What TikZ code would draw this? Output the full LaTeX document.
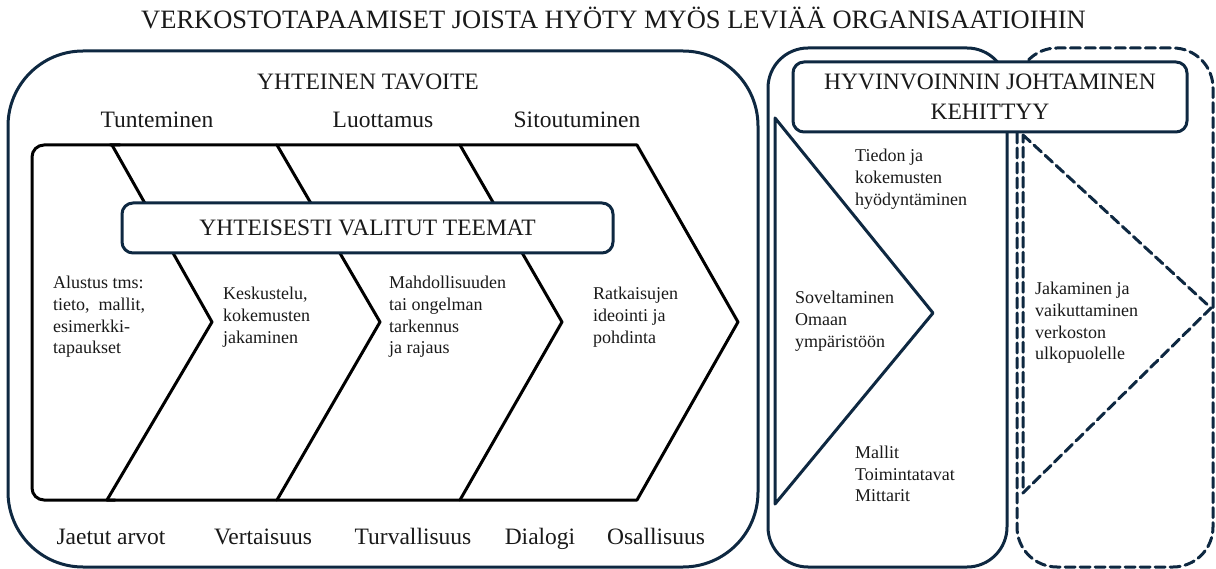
\documentclass[tikz,border=0pt]{standalone}
\usepackage{fontspec}
\setmainfont{Liberation Serif}
\usepackage{xcolor}
\definecolor{navy}{HTML}{0E2841}

\begin{document}
\begin{tikzpicture}[x=1pt,y=-1pt,line join=round,line cap=round,
  panel/.style={draw=navy,line width=3pt},
  chevline/.style={draw=black,line width=3pt},
  themebox/.style={draw=navy,line width=3pt,fill=white,rounded corners=11pt},
  biglabel/.style={font=\fontsize{23.5}{30}\selectfont,text=black!90,inner sep=0pt},
  baselabel/.style={biglabel,anchor=base},
  bodytext/.style={font=\fontsize{18}{21.7}\selectfont,text=black!90,align=left,anchor=west,inner sep=0pt}]
\useasboundingbox (0,0) rectangle (1216,569);
% outer frames
\draw[panel,rounded corners=75pt] (8,51) rectangle (758,567);
\draw[panel,rounded corners=40pt] (768,48) rectangle (1007,567);
\draw[panel,dashed,dash pattern=on 10pt off 5pt,rounded corners=40pt] (1017,48) rectangle (1213,567);
% process chevrons
\draw[chevline,rounded corners=12pt] (120,145) -- (32,145) -- (32,500) -- (115,500);
\draw[chevline] (110,145) -- (637,145) -- (738,322) -- (637,500) -- (107,500);
\draw[chevline] (112,145) -- (212,322) -- (107,500);
\draw[chevline] (277,145) -- (380,322) -- (277,500);
\draw[chevline] (460,145) -- (562,322) -- (460,500);
% right triangles
\draw[panel] (775,118) -- (933,313) -- (775,504) -- cycle;
\draw[panel,dashed,dash pattern=on 10pt off 5pt] (1023,135) -- (1211,308) -- (1023,493) -- cycle;
% boxes
\node[themebox,biglabel,minimum width=491pt,minimum height=50pt] (teemat) at (367.5,228) {YHTEISESTI VALITUT TEEMAT};
\node[themebox,biglabel,minimum width=394pt,minimum height=70pt,align=center] (johtaminen) at (990,97) {HYVINVOINNIN JOHTAMINEN\\KEHITTYY};
% labels
\node[baselabel,font=\fontsize{26.5}{30}\selectfont] (otsikko) at (613.5,29) {VERKOSTOTAPAAMISET JOISTA HYÖTY MYÖS LEVIÄÄ ORGANISAATIOIHIN};
\node[baselabel] (tavoite) at (368,89.5) {YHTEINEN TAVOITE};
\node[baselabel] (tunteminen) at (157,127.5) {Tunteminen};
\node[baselabel] (luottamus) at (383,127.5) {Luottamus};
\node[baselabel] (sitoutuminen) at (577,127.5) {Sitoutuminen};
\node[baselabel] (arvot) at (111,544.5) {Jaetut arvot};
\node[baselabel] (vertaisuus) at (263,544.5) {Vertaisuus};
\node[baselabel] (turvallisuus) at (413,544.5) {Turvallisuus};
\node[baselabel] (dialogi) at (540,544.5) {Dialogi};
\node[baselabel] (osallisuus) at (656,544.5) {Osallisuus};
\node[bodytext] (alustus) at (53,317) {Alustus tms:\\tieto,\ \ mallit,\\esimerkki-\\tapaukset};
\node[bodytext] (keskustelu) at (223,317) {Keskustelu,\\kokemusten\\jakaminen};
\node[bodytext] (tarkennus) at (389,317) {Mahdollisuuden\\tai ongelman\\tarkennus\\ja rajaus};
\node[bodytext] (ideointi) at (593,317) {Ratkaisujen\\ideointi ja\\pohdinta};
\node[bodytext] (tiedon) at (855,179) {Tiedon ja\\kokemusten\\hyödyntäminen};
\node[bodytext] (soveltaminen) at (795,321) {Soveltaminen\\Omaan\\ympäristöön};
\node[bodytext] (mallit) at (855,474) {Mallit\\Toimintatavat\\Mittarit};
\node[bodytext] (jakaminen) at (1035,323) {Jakaminen ja\\vaikuttaminen\\verkoston\\ulkopuolelle};
\end{tikzpicture}
\end{document}
